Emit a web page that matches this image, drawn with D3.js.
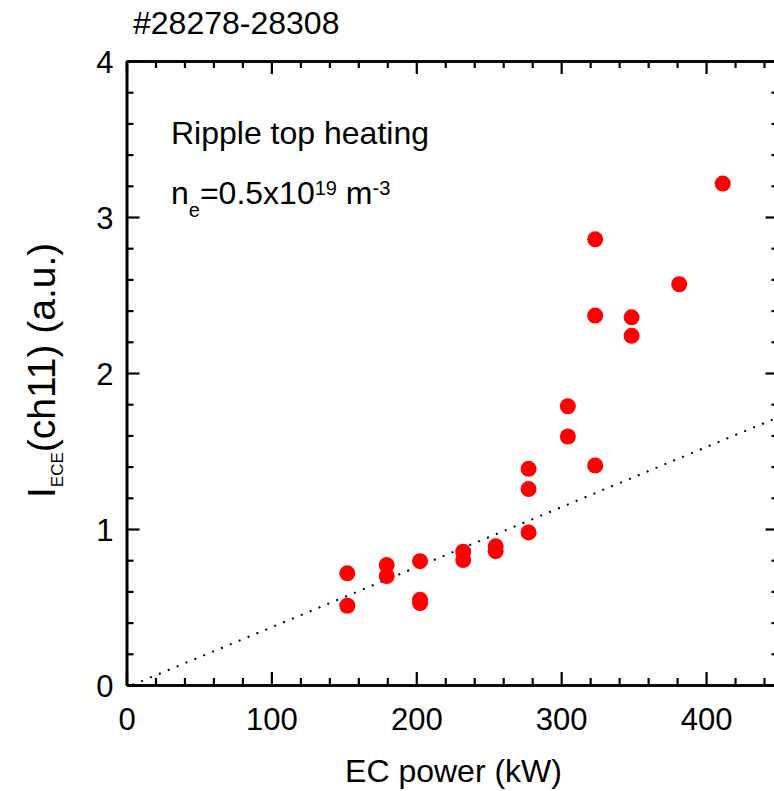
<!DOCTYPE html>
<html>
<head>
<meta charset="utf-8">
<script src="https://cdn.jsdelivr.net/npm/d3@7"></script>
<style>
  html, body { margin: 0; padding: 0; background: #fff; }
  svg { display: block; font-family: "Liberation Sans", Arial, sans-serif; }
</style>
</head>
<body>
<svg id="chart" width="774" height="791"></svg>
<script>
// ---- data ----
const power = [152.4, 152.4, 179.6, 179.6, 202.6, 202.6, 202.6, 232.4, 232.4, 254.8, 254.8,
               277.5, 277.5, 277.5, 304.6, 304.6, 323.5, 323.5, 323.5, 348.6, 348.6, 381.5, 411.5];
const intensity = [0.716, 0.508, 0.769, 0.698, 0.794, 0.546, 0.525, 0.854, 0.801, 0.889, 0.858,
                   1.386, 1.256, 0.978, 1.787, 1.593, 2.857, 2.368, 1.407, 2.357, 2.238, 2.569, 3.214];
const fitPower = [4, 450];
const fitIntensity = [0.0, 1.717];
const xTicks = [0, 100, 200, 300, 400];
const yTicks = [0, 1, 2, 3, 4];
const shotLabel = "#28278-28308";
const noteLabel = "Ripple top heating";

// ---- layout ----
const svg = d3.select("#chart");
const pL = 126.5, pR = 778.5, pT = 61, pB = 685;
const x = d3.scaleLinear().domain([0, 450]).range([pL, pR]);
const y = d3.scaleLinear().domain([0, 4]).range([pB, pT]);

const majorLen = 13, minorLen = 7, axisW = 2.6;
const xMinor = d3.range(0, 451, 20).filter(v => v % 100 !== 0);
const yMinor = d3.range(0, 4.001, 0.2).map(v => +v.toFixed(1)).filter(v => Math.abs(v - Math.round(v)) > 1e-6);

// fit line (dotted)
svg.append("path")
  .attr("d", d3.line().x(d => x(d[0])).y(d => y(d[1]))(fitPower.map((p, i) => [p, fitIntensity[i]])))
  .attr("fill", "none").attr("stroke", "#000").attr("stroke-width", 2)
  .attr("stroke-dasharray", "2,7.6");

// points
svg.append("g").selectAll("circle")
  .data(power.map((p, i) => [p, intensity[i]]))
  .join("circle")
  .attr("cx", d => x(d[0])).attr("cy", d => y(d[1])).attr("r", 8)
  .attr("fill", "#ff0000");

// axes
function axisGroup(axis, tx, ty) {
  const g = svg.append("g").attr("transform", `translate(${tx},${ty})`).call(axis);
  g.select(".domain").attr("stroke-width", axisW);
  g.selectAll(".tick line").attr("stroke-width", 2.2);
  return g;
}
const fmt = d3.format("d");
const gb = axisGroup(d3.axisBottom(x).tickValues(xTicks).tickFormat(fmt).tickSize(-majorLen).tickPadding(majorLen + 10).tickSizeOuter(0), 0, pB);
axisGroup(d3.axisBottom(x).tickValues(xMinor).tickSize(-minorLen).tickFormat("").tickSizeOuter(0), 0, pB);
axisGroup(d3.axisTop(x).tickValues(xTicks).tickSize(-majorLen).tickFormat("").tickSizeOuter(0), 0, pT);
axisGroup(d3.axisTop(x).tickValues(xMinor).tickSize(-minorLen).tickFormat("").tickSizeOuter(0), 0, pT);
const gl = axisGroup(d3.axisLeft(y).tickValues(yTicks).tickFormat(fmt).tickSize(-majorLen).tickPadding(13).tickSizeOuter(0), pL, 0);
axisGroup(d3.axisLeft(y).tickValues(yMinor).tickSize(-minorLen).tickFormat("").tickSizeOuter(0), pL, 0);
axisGroup(d3.axisRight(y).tickValues(yTicks).tickSize(-majorLen).tickFormat("").tickSizeOuter(0), pR, 0);
axisGroup(d3.axisRight(y).tickValues(yMinor).tickSize(-minorLen).tickFormat("").tickSizeOuter(0), pR, 0);

gb.selectAll("text").attr("font-size", 31).attr("fill", "#000")
  .attr("font-family", "Liberation Sans, Arial, sans-serif").attr("dy", "0.71em");
gl.selectAll("text").attr("font-size", 31).attr("fill", "#000")
  .attr("font-family", "Liberation Sans, Arial, sans-serif").attr("dy", "0.36em");

// axis titles
svg.append("text").attr("x", 453.5).attr("y", 782).attr("text-anchor", "middle")
  .attr("font-size", 32).text("EC power (kW)");

const yt = svg.append("text").attr("transform", "translate(55,498) rotate(-90)")
  .attr("font-size", 39);
yt.append("tspan").text("I");
yt.append("tspan").attr("font-size", 17).attr("dy", 8).text("ECE");
yt.append("tspan").attr("dy", -8).text("(ch11) (a.u.)");

// annotations
svg.append("text").attr("x", 133).attr("y", 34).attr("font-size", 32).text(shotLabel);
svg.append("text").attr("x", 171).attr("y", 144).attr("font-size", 32).text(noteLabel);
const ne = svg.append("text").attr("x", 171).attr("y", 204).attr("font-size", 32);
ne.append("tspan").text("n");
ne.append("tspan").attr("font-size", 20).attr("dy", 13).text("e");
ne.append("tspan").attr("dy", -13).text("=0.5x10");
ne.append("tspan").attr("font-size", 20).attr("dy", -9).text("19");
ne.append("tspan").attr("dy", 9).text(" m");
ne.append("tspan").attr("font-size", 20).attr("dy", -9).text("-3");
</script>
</body>
</html>
